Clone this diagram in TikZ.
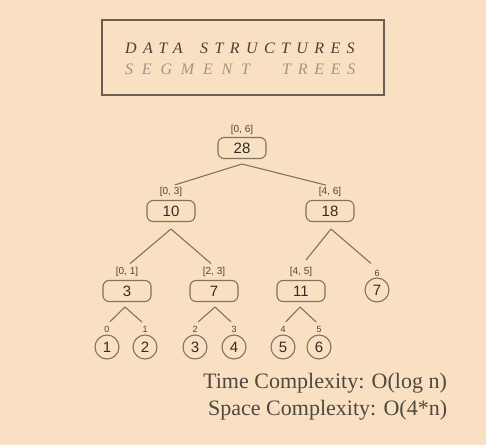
\documentclass[tikz,border=0pt]{standalone}
\usepackage{fontspec}
\setmainfont{Liberation Serif}
\newfontfamily\nodefont{Liberation Sans}
\usetikzlibrary{calc}
\definecolor{bg}{RGB}{250,224,195}
\definecolor{boxc}{RGB}{105,95,80}
\definecolor{linec}{RGB}{128,114,95}
\definecolor{numc}{RGB}{50,45,38}
\definecolor{labc}{RGB}{75,68,58}
\definecolor{titlea}{RGB}{70,64,55}
\definecolor{titleb}{RGB}{160,150,135}
\definecolor{txtc}{RGB}{78,72,62}
\tikzset{
  segbox/.style={draw=linec, line width=1.1pt, rounded corners=6pt, minimum width=48pt, minimum height=21pt, inner sep=0pt, font=\nodefont\fontsize{15}{15}\selectfont, text=numc},
  leafnode/.style={draw=linec, line width=1.1pt, circle, minimum size=24pt, inner sep=0pt, font=\nodefont\fontsize{15}{15}\selectfont, text=numc},
  rangelab/.style={inner sep=1pt, font=\nodefont\fontsize{10}{10}\selectfont, text=labc},
  idxlab/.style={inner sep=1pt, font=\nodefont\fontsize{9}{9}\selectfont, text=labc},
  edge/.style={draw=linec, line width=1.1pt, shorten >=4pt},
  edgeb/.style={draw=linec, line width=1.1pt, shorten >=8pt},
  titlea/.style={anchor=base west, inner sep=0pt, text=titlea, font=\itshape\fontsize{16}{16}\selectfont\addfontfeature{LetterSpace=40}},
  titleb/.style={anchor=base west, inner sep=0pt, text=titleb, font=\itshape\fontsize{16}{16}\selectfont\addfontfeature{LetterSpace=55}},
  cplx/.style={anchor=base west, inner sep=0pt, text=txtc, font=\fontsize{22}{22}\selectfont},
}
\begin{document}
\begin{tikzpicture}[x=1pt,y=-1pt]
\fill[bg] (0,0) rectangle (486,445);
\useasboundingbox (0,0) rectangle (486,445);
% title box
\draw[boxc, line width=2.5pt] (102,20) rectangle (384,95);
\node[titlea] (t1a) at (125,53) {DATA};
\node[titlea] (t1b) at (200,53) {STRUCTURES};
\node[titleb] (t2a) at (125,74) {SEGMENT};
\node[titleb, font=\itshape\fontsize{16}{16}\selectfont\addfontfeature{LetterSpace=42}] (t2b) at (282,74) {TREES};
% internal nodes
\node[segbox] (n28) at (242,148) {28};
\node[rangelab] (l06) at (242,130) {[0, 6]};
\node[segbox] (n10) at (171,211) {10};
\node[rangelab] (l03) at (171,192) {[0, 3]};
\node[segbox] (n18) at (330,211) {18};
\node[rangelab] (l46) at (330,192) {[4, 6]};
\node[segbox] (n3) at (127,291) {3};
\node[rangelab] (l01) at (127,272) {[0, 1]};
\node[segbox] (n7) at (214,291) {7};
\node[rangelab] (l23) at (214,272) {[2, 3]};
\node[segbox] (n11) at (301,291) {11};
\node[rangelab] (l45) at (301,272) {[4, 5]};
\node[leafnode] (c7) at (377,290) {7};
\node[idxlab] (l6) at (377,273) {6};
% leaves
\node[leafnode] (c1) at (107,347) {1};
\node[idxlab] (k0) at (107,329) {0};
\node[leafnode] (c2) at (145,347) {2};
\node[idxlab] (k1) at (145,329) {1};
\node[leafnode] (c3) at (195,347) {3};
\node[idxlab] (k2) at (195,329) {2};
\node[leafnode] (c4) at (234,347) {4};
\node[idxlab] (k3) at (234,329) {3};
\node[leafnode] (c5) at (283,347) {5};
\node[idxlab] (k4) at (283,329) {4};
\node[leafnode] (c6) at (319,347) {6};
\node[idxlab] (k5) at (319,329) {5};
% apex points
\coordinate (a28) at (242,164);
\coordinate (a10) at (171,229);
\coordinate (a18) at (331,229);
\coordinate (a3) at (125,307);
\coordinate (a7) at (215,307);
\coordinate (a11) at (300,307);
% edges
\draw[edge] (a28) -- (l03.north);
\draw[edge] (a28) -- (l46.north);
\draw[edge] (a10) -- (l01.north);
\draw[edge] (a10) -- (l23.north);
\draw[edgeb] (a18) -- (l45.north);
\draw[edgeb] (a18) -- (l6.north);
\draw[edge] (a3) -- (k0.north);
\draw[edge] (a3) -- (k1.north);
\draw[edge] (a7) -- (k2.north);
\draw[edge] (a7) -- (k3.north);
\draw[edge] (a11) -- (k4.north);
\draw[edge] (a11) -- (k5.north);
% complexity text
\node[cplx] (tc) at (203,388) {Time Complexity: O(log n)};
\node[cplx] (sc) at (208,415) {Space Complexity: O(4*n)};
\end{tikzpicture}
\end{document}
